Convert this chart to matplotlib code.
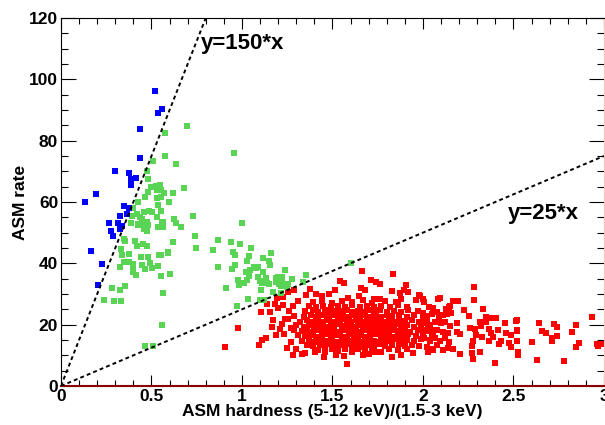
import matplotlib
matplotlib.use("Agg")
import matplotlib.pyplot as plt
from matplotlib.font_manager import FontProperties

plt.rcParams['font.family'] = ['Liberation Sans', 'DejaVu Sans']
plt.rcParams['font.weight'] = 'bold'
plt.rcParams['axes.labelweight'] = 'bold'

# soft state (blue)
blue_x = [0.519, 0.536, 0.558, 0.436, 0.438, 0.300, 0.376, 0.385, 0.414, 0.385,
          0.193, 0.133, 0.350, 0.376, 0.328, 0.363, 0.265, 0.317, 0.335, 0.275,
          0.328, 0.289, 0.168, 0.228, 0.204]
blue_y = [96.1, 89.1, 90.3, 83.7, 74.3, 70.0, 69.3, 67.6, 67.9, 65.7,
          62.6, 59.9, 58.8, 57.9, 55.5, 56.0, 53.0, 53.0, 52.2, 50.6,
          51.2, 48.8, 44.0, 39.8, 33.0]

# intermediate state (green): (hardness, rate)
green_pts = [
    (0.696, 84.7), (0.575, 82.4), (0.576, 75.1), (0.510, 73.4), (0.635, 72.3),
    (0.475, 70.1), (0.482, 67.5), (0.497, 64.9), (0.525, 65.3), (0.549, 65.7),
    (0.532, 63.8), (0.554, 63.9), (0.569, 63.0), (0.462, 61.7), (0.479, 63.3),
    (0.532, 61.2), (0.552, 61.6), (0.619, 63.0), (0.680, 64.6), (0.597, 60.0),
    (0.538, 58.9), (0.424, 60.1), (0.398, 58.0), (0.392, 55.5), (0.420, 56.1),
    (0.460, 56.7), (0.488, 57.2), (0.505, 56.7), (0.551, 57.1), (0.530, 55.2),
    (0.435, 55.2), (0.448, 54.4), (0.475, 53.4), (0.453, 53.0), (0.479, 52.6),
    (0.389, 53.0), (0.425, 52.8), (0.565, 53.5), (0.558, 53.0), (0.538, 51.9),
    (0.564, 51.9), (0.626, 54.3), (0.635, 53.0), (0.663, 51.9), (0.729, 55.4),
    (0.424, 52.5), (0.459, 51.1), (0.475, 50.4), (0.348, 47.9), (0.352, 47.4),
    (0.409, 47.4), (0.420, 45.8), (0.453, 46.2), (0.473, 45.6), (0.620, 47.0),
    (0.740, 48.8), (0.744, 45.0), (0.867, 47.5), (0.841, 44.5), (0.330, 44.8),
    (0.337, 42.7), (0.377, 42.9), (0.444, 42.1), (0.479, 42.2), (0.540, 42.6),
    (0.552, 42.8), (0.589, 43.8), (0.589, 43.3), (0.350, 40.3), (0.377, 40.4),
    (0.396, 39.9), (0.448, 39.6), (0.493, 40.2), (0.534, 39.1), (0.505, 38.6),
    (0.464, 38.0), (0.326, 38.7), (0.396, 38.1), (0.399, 37.1), (0.413, 36.2),
    (0.552, 35.9), (0.604, 36.5), (0.866, 38.8), (0.354, 32.7), (0.284, 31.8),
    (0.326, 31.2), (0.564, 30.2), (0.236, 28.2), (0.293, 27.6), (0.331, 27.7),
    (0.558, 20.0), (0.466, 13.0), (0.506, 13.1), (0.958, 76.1),
    (1.000, 53.0), (0.939, 47.0), (0.987, 46.3), (1.051, 45.0), (0.952, 43.6),
    (0.960, 42.8), (1.039, 42.5), (1.159, 43.3), (1.116, 41.6), (1.147, 40.9),
    (1.030, 40.6), (0.963, 39.6), (0.946, 38.3), (1.066, 38.8), (1.090, 38.8),
    (1.079, 38.4), (1.153, 39.6), (1.044, 37.7), (1.020, 37.3), (1.118, 37.3),
    (1.238, 37.7), (1.037, 35.8), (1.087, 35.7), (1.028, 34.6), (1.099, 34.2),
    (1.134, 35.3), (1.186, 35.1), (1.201, 35.5), (1.219, 35.5), (1.352, 36.3),
    (0.978, 34.4), (0.983, 33.0), (1.011, 33.5), (1.111, 33.6), (1.140, 33.5),
    (1.151, 33.3), (1.186, 34.0), (1.223, 33.9), (1.256, 33.4), (1.206, 33.3),
    (1.274, 35.0), (1.214, 32.6), (1.247, 32.3), (0.910, 32.1), (1.103, 31.2),
    (1.170, 30.6), (1.215, 30.4), (1.335, 34.0), (1.604, 40.0), (1.033, 28.3),
    (1.101, 28.0), (1.122, 28.0), (0.972, 26.2),
]

# hard state (red), dense core row by row
red_core = [
    (1.42, 11.8), (1.46, 11.2), (1.50, 12.0), (1.53, 11.4), (1.57, 11.9), (1.61, 11.0),
    (1.64, 12.2), (1.68, 11.5), (1.72, 11.9), (1.77, 11.2), (1.81, 12.1), (1.86, 11.6),
    (1.91, 12.0),
    (1.36, 13.4), (1.39, 12.9), (1.43, 13.5), (1.46, 13.0), (1.49, 13.6), (1.52, 12.9),
    (1.55, 13.3), (1.58, 13.8), (1.61, 13.1), (1.64, 13.5), (1.67, 12.8), (1.70, 13.4),
    (1.73, 13.0), (1.76, 13.6), (1.79, 12.9), (1.83, 13.3), (1.87, 13.7), (1.90, 12.9),
    (1.94, 13.4), (1.98, 13.1),
    (1.33, 14.6), (1.37, 15.1), (1.40, 14.5), (1.43, 15.0), (1.46, 14.7), (1.49, 15.2),
    (1.52, 14.5), (1.55, 14.9), (1.58, 15.3), (1.61, 14.6), (1.64, 15.0), (1.67, 14.5),
    (1.70, 15.2), (1.73, 14.8), (1.76, 14.4), (1.79, 15.0), (1.82, 14.7), (1.85, 15.2),
    (1.88, 14.6), (1.91, 15.0), (1.95, 14.7), (1.99, 15.2), (2.04, 14.8),
    (1.31, 16.6), (1.35, 16.2), (1.38, 16.7), (1.41, 16.1), (1.44, 16.5), (1.47, 16.9),
    (1.50, 16.2), (1.53, 16.6), (1.56, 16.1), (1.59, 16.8), (1.62, 16.3), (1.65, 16.7),
    (1.68, 16.0), (1.71, 16.5), (1.74, 16.9), (1.77, 16.2), (1.80, 16.6), (1.83, 16.1),
    (1.86, 16.7), (1.89, 16.3), (1.92, 16.8), (1.96, 16.2), (2.00, 16.6), (2.05, 16.1),
    (1.29, 18.2), (1.33, 17.8), (1.36, 18.3), (1.39, 17.7), (1.42, 18.1), (1.45, 18.5),
    (1.48, 17.8), (1.51, 18.2), (1.54, 17.6), (1.57, 18.4), (1.60, 17.9), (1.63, 18.3),
    (1.66, 17.7), (1.69, 18.1), (1.72, 18.5), (1.75, 17.8), (1.78, 18.2), (1.81, 17.6),
    (1.84, 18.3), (1.87, 17.9), (1.90, 18.4), (1.93, 17.7), (1.97, 18.1), (2.01, 17.8),
    (2.06, 18.3),
    (1.30, 19.8), (1.34, 19.3), (1.37, 19.9), (1.40, 19.4), (1.43, 19.8), (1.46, 19.2),
    (1.49, 19.7), (1.52, 20.1), (1.55, 19.4), (1.58, 19.9), (1.61, 19.3), (1.64, 19.8),
    (1.67, 19.5), (1.70, 20.0), (1.73, 19.4), (1.76, 19.8), (1.79, 19.2), (1.82, 19.7),
    (1.85, 20.1), (1.88, 19.5), (1.91, 19.9), (1.95, 19.3), (1.99, 19.8), (2.03, 19.4),
    (1.32, 21.0), (1.36, 21.5), (1.39, 20.9), (1.42, 21.4), (1.45, 21.0), (1.48, 21.6),
    (1.51, 20.9), (1.54, 21.3), (1.57, 21.7), (1.60, 21.0), (1.63, 21.4), (1.66, 20.9),
    (1.69, 21.5), (1.72, 21.1), (1.75, 21.6), (1.78, 20.9), (1.81, 21.3), (1.84, 21.0),
    (1.87, 21.6), (1.90, 21.1), (1.94, 21.5), (1.98, 21.0), (2.02, 21.4),
    (1.34, 22.6), (1.38, 23.1), (1.41, 22.5), (1.44, 23.0), (1.47, 22.7), (1.50, 23.2),
    (1.53, 22.6), (1.56, 23.0), (1.59, 22.5), (1.62, 23.1), (1.65, 22.7), (1.68, 23.2),
    (1.71, 22.6), (1.74, 23.0), (1.77, 22.5), (1.80, 23.1), (1.83, 22.7), (1.87, 23.0),
    (1.91, 22.6), (1.95, 23.1), (2.00, 22.7),
    (1.35, 24.3), (1.39, 24.8), (1.42, 24.2), (1.46, 24.7), (1.49, 24.1), (1.52, 24.6),
    (1.55, 24.3), (1.58, 24.8), (1.61, 24.2), (1.64, 24.6), (1.67, 24.1), (1.70, 24.7),
    (1.73, 24.3), (1.76, 24.8), (1.80, 24.2), (1.84, 24.6), (1.88, 24.1), (1.92, 24.7),
    (1.97, 24.3),
    (1.37, 26.0), (1.41, 25.6), (1.45, 26.2), (1.49, 25.7), (1.53, 26.1), (1.57, 25.6),
    (1.61, 26.3), (1.65, 25.8), (1.69, 26.2), (1.73, 25.7), (1.77, 26.1), (1.82, 25.8),
    (1.86, 26.3), (1.91, 25.7),
    (1.39, 27.4), (1.44, 27.8), (1.50, 27.2), (1.55, 27.7), (1.61, 27.3), (1.67, 27.9),
    (1.72, 27.2), (1.79, 27.6), (1.85, 27.3),
]

# red points around the core and in the tail
red_outer = [
    (1.983, 29.5), (2.006, 27.5), (2.035, 25.9), (2.057, 25.5), (2.085, 28.3),
    (2.094, 28.8), (2.125, 25.1), (2.145, 25.9), (2.166, 27.8), (2.002, 23.7),
    (2.024, 22.9), (2.048, 23.4), (2.075, 24.2), (2.088, 22.6), (2.112, 23.2),
    (2.134, 23.4), (2.153, 23.7), (1.992, 21.0), (2.017, 20.4), (2.039, 19.9),
    (2.066, 21.0), (2.098, 20.4), (2.120, 21.0), (2.149, 19.7), (2.188, 20.5),
    (1.992, 18.3), (2.024, 17.9), (2.053, 17.5), (2.079, 18.3), (2.109, 17.7),
    (2.140, 17.2), (2.186, 17.7), (2.204, 17.1), (2.006, 15.5), (2.039, 15.0),
    (2.066, 15.8), (2.094, 14.7), (2.122, 15.5), (2.145, 14.2), (2.020, 12.8),
    (2.053, 12.1), (2.079, 13.4), (2.112, 11.7), (2.140, 12.3), (2.164, 12.1),
    (2.028, 11.2), (2.057, 11.8), (2.193, 27.6), (2.149, 26.1), (1.915, 30.8),
    (1.976, 29.7), (1.873, 30.2),
    (2.282, 32.2), (2.284, 28.2), (2.225, 24.9), (2.333, 25.0), (2.252, 22.8),
    (2.315, 20.8), (2.350, 22.4), (2.374, 22.1), (2.405, 22.3), (2.350, 21.0),
    (2.455, 20.6), (2.514, 21.3), (2.261, 18.8), (2.289, 18.6), (2.320, 19.5),
    (2.366, 18.6), (2.414, 18.4), (2.378, 17.4), (2.291, 16.5), (2.326, 16.0),
    (2.385, 16.1), (2.459, 17.3), (2.485, 16.5), (2.518, 18.2), (2.276, 14.8),
    (2.363, 14.7), (2.433, 14.7), (2.473, 14.0), (2.420, 13.6), (2.273, 13.2),
    (2.488, 12.7), (2.269, 10.9), (2.317, 11.0), (2.525, 11.0), (2.527, 10.1),
    (2.276, 8.7), (2.396, 7.5), (2.204, 10.5),
    (2.518, 21.5), (2.639, 20.5), (2.725, 20.1), (2.740, 19.2), (2.847, 19.9),
    (2.935, 22.6), (2.518, 18.0), (2.656, 17.8), (2.678, 17.4), (2.821, 17.7),
    (2.739, 16.4), (2.713, 15.8), (2.714, 14.8), (2.518, 14.8), (2.600, 14.3),
    (2.864, 14.0), (2.845, 12.7), (2.959, 13.8), (2.983, 13.6), (2.969, 13.2),
    (2.632, 8.4), (2.781, 8.3),
    (1.661, 37.6), (1.836, 36.6), (1.543, 34.3), (1.565, 33.7), (1.713, 34.7),
    (1.740, 33.9), (1.762, 33.3), (1.906, 32.9), (1.514, 31.4), (1.657, 32.1),
    (1.680, 31.2), (1.827, 31.0), (1.897, 31.2), (1.481, 29.9), (1.588, 28.8),
    (1.645, 29.5), (1.731, 28.3), (1.762, 28.3), (1.878, 28.5), (1.960, 27.9),
    (1.998, 28.5),
    (0.980, 19.0), (1.166, 19.1), (1.107, 24.2), (1.155, 24.0), (1.136, 26.8),
    (1.184, 26.8), (1.134, 15.8), (1.112, 15.1), (1.096, 13.3), (1.283, 10.1),
    (1.210, 18.6), (1.252, 21.8), (1.191, 28.8), (1.225, 28.9), (1.256, 30.8),
    (1.287, 31.2), (1.376, 31.6), (1.352, 29.8), (1.409, 29.9), (1.440, 29.2),
    (1.479, 29.9), (1.225, 26.4), (0.906, 12.8),
    (1.24, 22.0), (1.26, 24.5), (1.23, 17.0), (1.27, 14.2), (1.25, 12.3),
    (1.28, 26.0), (1.22, 20.2), (1.20, 25.5), (1.27, 19.0), (1.29, 22.8),
    (1.30, 12.0), (1.31, 27.6), (1.19, 16.5), (1.17, 21.5),
    (1.582, 7.3), (1.827, 9.3), (1.946, 10.9), (1.565, 9.9), (1.455, 9.3),
    (1.667, 10.1), (1.350, 10.9), (1.403, 11.2), (1.735, 11.2), (1.33, 10.5),
    (1.52, 10.2), (1.70, 10.3), (1.88, 10.1),
]

slopes = [150, 25]
x_ticks = [0, 0.5, 1, 1.5, 2, 2.5, 3]
x_tick_labels = ['0', '0.5', '1', '1.5', '2', '2.5', '3']
y_ticks = [0, 20, 40, 60, 80, 100, 120]

fig = plt.figure(figsize=(6.05, 4.25), dpi=100)
ax = fig.add_axes([0.1008, 0.0918, 0.8975, 0.8659])

sq = dict(marker='s', s=20, linewidths=0)
red_x, red_y = zip(*(red_core + red_outer))
ax.scatter(red_x, red_y, color='#ff0000', **sq, zorder=2)
green_x, green_y = zip(*green_pts)
ax.scatter(green_x, green_y, color='#59d454', **sq, zorder=2)
ax.scatter(blue_x, blue_y, color='#0000ff', **sq, zorder=2)

for k in slopes:
    ax.plot([0, 3], [0, 3 * k], color='black', lw=1.4, ls=(0, (2, 1.6)), zorder=3)

ax.text(0.773, 109.9, 'y=150*x', fontsize=16, fontweight='bold', va='baseline', ha='left')
ax.text(2.47, 54.5, 'y=25*x', fontsize=16, fontweight='bold', va='baseline', ha='left')

ax.set_xlim(0, 3)
ax.set_ylim(0, 120)
tick_font = FontProperties(family='Liberation Sans', weight='bold', size=12.5)
ax.set_xticks(x_ticks)
ax.set_xticklabels(x_tick_labels, fontproperties=tick_font)
ax.set_xticks([v / 10 for v in range(31)], minor=True)
ax.set_yticks(y_ticks)
ax.set_yticklabels([str(v) for v in y_ticks], fontproperties=tick_font)
ax.set_yticks(list(range(0, 121, 5)), minor=True)
ax.tick_params(axis='x', which='major', direction='in', length=8, width=0.8, top=True, pad=2)
ax.tick_params(axis='x', which='minor', direction='in', length=4, width=0.8, top=True)
ax.tick_params(axis='y', which='major', direction='in', length=11, width=0.8, right=True, pad=2)
ax.tick_params(axis='y', which='minor', direction='in', length=5, width=0.8, right=True)

ax.spines['bottom'].set_color('#8b0000')
ax.spines['bottom'].set_linewidth(1.5)
ax.spines['right'].set_color('#ffc0c0')

ax.set_xlabel('ASM hardness (5-12 keV)/(1.5-3 keV)', fontsize=12.5, fontweight='bold', labelpad=0)
ax.set_ylabel('ASM rate', fontsize=12.5, fontweight='bold', labelpad=1)

fig.savefig('out.png', dpi=100)
